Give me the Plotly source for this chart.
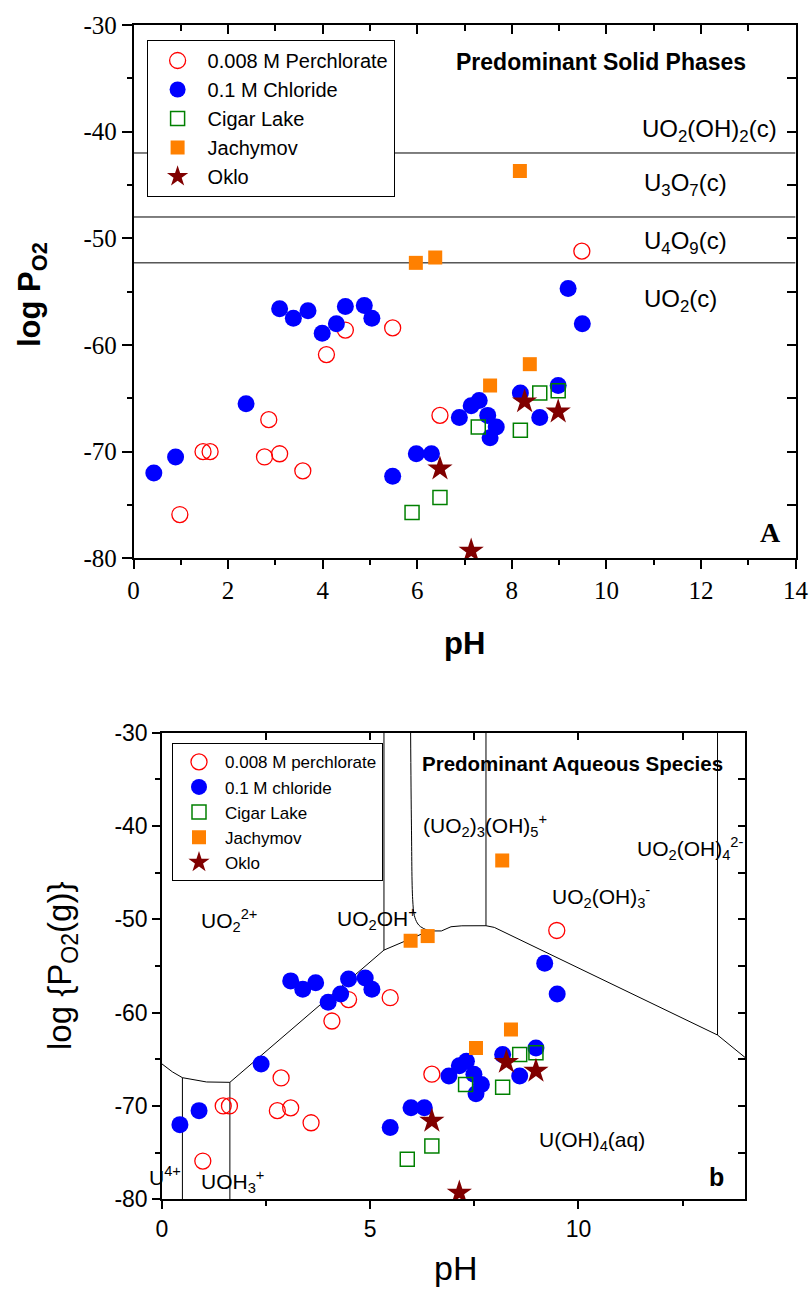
import plotly.graph_objects as go

W, H = 811, 1289

# ---------------- data ----------------
perc_pH = [4.48, 5.48, 4.08, 2.86, 1.47, 1.62, 2.77, 3.09, 3.58, 0.98, 6.48, 9.48]
perc_logP = [-58.6, -58.4, -60.9, -67.0, -70.0, -70.0, -70.5, -70.2, -71.8, -75.9, -66.6, -51.2]

chl_pH = [3.09, 3.38, 3.69, 3.99, 4.29, 4.48, 4.88, 5.04, 2.38, 0.89, 0.43, 5.98, 6.30,
          5.48, 6.89, 7.14, 7.31, 7.49, 7.67, 7.54, 8.18, 8.59, 8.98, 9.19, 9.49]
chl_logP = [-56.6, -57.5, -56.8, -58.9, -58.0, -56.4, -56.3, -57.5, -65.5, -70.5, -72.0, -70.2, -70.2,
            -72.3, -66.8, -65.7, -65.2, -66.6, -67.7, -68.7, -64.5, -66.8, -63.8, -54.7, -58.0]

cigar_pH = [7.29, 8.18, 8.59, 8.98, 6.48, 5.89]
cigar_logP = [-67.7, -68.0, -64.5, -64.3, -74.3, -75.7]

jach_pH = [7.54, 8.38, 8.17, 5.97, 6.38]
jach_logP = [-63.8, -61.8, -43.7, -52.3, -51.8]

oklo_pH = [6.48, 8.27, 8.98, 7.14]
oklo_logP = [-71.6, -65.3, -66.25, -79.3]

# solid-phase boundaries (panel A)
solid_bounds = [-42.0, -48.0, -52.3]

# aqueous-species boundaries (panel b)
main_b_pH = [0.0, 0.25, 0.49, 1.07, 1.63, 5.33, 6.41, 6.71, 6.94, 7.20, 7.78, 7.98, 13.34, 14.0]
main_b_logP = [-65.5, -66.35, -66.97, -67.43, -67.47, -53.3, -51.25, -51.25, -50.8, -50.7, -50.69, -50.87, -62.4, -64.8]
curve_b_pH = [5.97, 5.99, 6.02, 6.06, 6.13, 6.21, 6.41]
curve_b_logP = [-30.0, -40.0, -47.9, -49.6, -50.4, -50.8, -51.25]
vert_pH = [0.49, 1.63, 5.33, 7.78, 13.34]
vert_from = [-66.97, -67.47, -53.3, -50.69, -62.4]
vert_to = [-80.0, -80.0, -30.0, -30.0, -30.0]

# tick labels
xA_ticks = [0, 2, 4, 6, 8, 10, 12, 14]
xA_text = ["0", "2", "4", "6", "8", "10", "12", "14"]
xB_ticks = [0, 5, 10]
xB_text = ["0", "5", "10"]
y_ticks = [-80, -70, -60, -50, -40, -30]
y_text = ["-80", "-70", "-60", "-50", "-40", "-30"]

series = [
    ("0.008 M Perchlorate", "0.008 M perchlorate", perc_pH, perc_logP,
     dict(symbol="circle-open", size=16, color="#FF0000", line=dict(color="#FF0000", width=1.3))),
    ("0.1 M Chloride", "0.1 M chloride", chl_pH, chl_logP,
     dict(symbol="circle", size=17, color="#0000FF")),
    ("Cigar Lake", "Cigar Lake", cigar_pH, cigar_logP,
     dict(symbol="square-open", size=14, color="#008000", line=dict(color="#008000", width=1.5))),
    ("Jachymov", "Jachymov", jach_pH, jach_logP,
     dict(symbol="square", size=14, color="#FF8000")),
    ("Oklo", "Oklo", oklo_pH, oklo_logP,
     dict(symbol="star", size=19, color="#800000")),
]


def px(x):
    return x / W


def py(y):
    return 1 - y / H


fig = go.Figure()

# ---- panel A boundary lines ----
for b in solid_bounds:
    fig.add_trace(go.Scatter(x=[0, 14], y=[b, b], mode="lines", line=dict(color="black", width=1),
                             showlegend=False, hoverinfo="skip", xaxis="x", yaxis="y"))

# ---- panel b boundary lines ----
fig.add_trace(go.Scatter(x=main_b_pH, y=main_b_logP, mode="lines", line=dict(color="black", width=1),
                         showlegend=False, hoverinfo="skip", xaxis="x2", yaxis="y2"))
fig.add_trace(go.Scatter(x=curve_b_pH, y=curve_b_logP, mode="lines", line=dict(color="black", width=1, shape="spline"),
                         showlegend=False, hoverinfo="skip", xaxis="x2", yaxis="y2"))
for vx, v0, v1 in zip(vert_pH, vert_from, vert_to):
    fig.add_trace(go.Scatter(x=[vx, vx], y=[v0, v1], mode="lines", line=dict(color="black", width=1),
                             showlegend=False, hoverinfo="skip", xaxis="x2", yaxis="y2"))

# ---- markers ----
for nameA, nameB, xs, ys, mk in series:
    fig.add_trace(go.Scatter(x=xs, y=ys, mode="markers", name=nameA, marker=mk,
                             xaxis="x", yaxis="y", legend="legend"))
for nameA, nameB, xs, ys, mk in series:
    fig.add_trace(go.Scatter(x=xs, y=ys, mode="markers", name=nameB, marker=mk,
                             xaxis="x2", yaxis="y2", legend="legend2"))

# overlay axes (inside ticks on top / right) need a subplot entry
fig.add_trace(go.Scatter(x=[None], y=[None], xaxis="x3", yaxis="y3", showlegend=False, hoverinfo="skip"))
fig.add_trace(go.Scatter(x=[None], y=[None], xaxis="x4", yaxis="y4", showlegend=False, hoverinfo="skip"))

serif = "Liberation Serif"
sans = "Liberation Sans"

domA_x = [px(133.5), px(795.6)]
domA_y = [py(558.3), py(25)]
domB_x = [px(162), px(745)]
domB_y = [py(1199.3), py(732.6)]

common = dict(showgrid=False, zeroline=False, showline=True, linecolor="black", linewidth=1.5,
              tickcolor="black", tickwidth=1.5, automargin=False)
ov = dict(showticklabels=False, showgrid=False, zeroline=False, showline=False,
          tickcolor="black", tickwidth=1.5, automargin=False)

fig.update_layout(
    template="none",
    width=W, height=H, margin=dict(l=0, r=0, t=0, b=0, pad=0, autoexpand=False),
    paper_bgcolor="white", plot_bgcolor="white",
    xaxis=dict(domain=domA_x, range=[0, 14], tickmode="array", tickvals=xA_ticks, ticktext=xA_text,
               ticks="outside", ticklen=9, mirror=True,
               anchor="y", tickfont=dict(family=serif, size=25, color="black"),
               minor=dict(dtick=1, tick0=0, ticks="outside", ticklen=5, tickcolor="black", tickwidth=1.5), **common),
    yaxis=dict(domain=domA_y, range=[-80, -30], tickmode="array", tickvals=y_ticks, ticktext=y_text,
               ticks="outside", ticklen=10, mirror=True,
               anchor="x", tickfont=dict(family=serif, size=25, color="black"),
               minor=dict(dtick=5, tick0=-80, ticks="outside", ticklen=5, tickcolor="black", tickwidth=1.5), **common),
    xaxis3=dict(overlaying="x", side="top", anchor="y", range=[0, 14], dtick=2, tick0=0, ticks="inside",
                ticklen=9, minor=dict(dtick=1, ticks="inside", ticklen=6, tickcolor="black", tickwidth=1.5), **ov),
    yaxis3=dict(overlaying="y", side="right", anchor="x", range=[-80, -30], dtick=10, tick0=-80, ticks="inside",
                ticklen=9, minor=dict(dtick=5, ticks="inside", ticklen=9, tickcolor="black", tickwidth=1.5), **ov),
    xaxis2=dict(domain=domB_x, range=[0, 14], tickmode="array", tickvals=xB_ticks, ticktext=xB_text,
                ticks="outside", ticklen=8, mirror=True,
                anchor="y2", tickfont=dict(family=sans, size=23, color="black"),
                minor=dict(dtick=2.5, tick0=0, ticks="outside", ticklen=5, tickcolor="black", tickwidth=1.5), **common),
    yaxis2=dict(domain=domB_y, range=[-80, -30], tickmode="array", tickvals=y_ticks, ticktext=y_text,
                ticks="outside", ticklen=8, mirror=True,
                anchor="x2", tickfont=dict(family=sans, size=23, color="black"),
                minor=dict(dtick=5, tick0=-80, ticks="outside", ticklen=5, tickcolor="black", tickwidth=1.5), **common),
    xaxis4=dict(overlaying="x2", side="top", anchor="y2", range=[0, 14], dtick=5, tick0=0, ticks="inside",
                ticklen=7, minor=dict(dtick=2.5, ticks="inside", ticklen=7, tickcolor="black", tickwidth=1.5), **ov),
    yaxis4=dict(overlaying="y2", side="right", anchor="x2", range=[-80, -30], dtick=10, tick0=-80, ticks="inside",
                ticklen=7, minor=dict(dtick=5, ticks="inside", ticklen=7, tickcolor="black", tickwidth=1.5), **ov),
    legend=dict(x=px(146.6), y=py(40), xanchor="left", yanchor="top", bgcolor="white",
                bordercolor="black", borderwidth=1, font=dict(family=sans, size=20, color="black"),
                tracegroupgap=0, itemwidth=50),
    legend2=dict(x=px(172), y=py(743.3), xanchor="left", yanchor="top", bgcolor="white",
                 bordercolor="black", borderwidth=1, font=dict(family=sans, size=17, color="black"),
                 tracegroupgap=0, itemwidth=42),
    showlegend=True,
)


def ann(text, x, y, size, family=sans, xanchor="left", yanchor="middle", angle=0):
    fig.add_annotation(text=text, x=px(x), y=py(y), xref="paper", yref="paper", showarrow=False,
                       xanchor=xanchor, yanchor=yanchor, textangle=angle,
                       font=dict(family=family, size=size, color="black"))


# panel A texts
ann("<b>Predominant Solid Phases</b>", 454, 62, 23)
ann("UO<sub>2</sub>(OH)<sub>2</sub>(c)", 640, 130, 24)
ann("U<sub>3</sub>O<sub>7</sub>(c)", 642, 185, 24)
ann("U<sub>4</sub>O<sub>9</sub>(c)", 642, 242, 24)
ann("UO<sub>2</sub>(c)", 642, 300, 24)
ann("<b>A</b>", 770, 532, 28, family=serif, xanchor="center")
ann("<b>pH</b>", 465, 643, 31, xanchor="center")
ann("<b>log P<sub>O2</sub></b>", 32, 295, 31, xanchor="center", angle=-90)

# panel b texts
ann("<b>Predominant Aqueous Species</b>", 420, 763, 20.5)
ann("(UO<sub>2</sub>)<sub>3</sub>(OH)<sub>5</sub><sup>+</sup>", 421, 825, 21)
ann("UO<sub>2</sub>(OH)<sub>4</sub><sup>2-</sup>", 635, 848, 21)
ann("UO<sub>2</sub>(OH)<sub>3</sub><sup>-</sup>", 550, 896, 21)
ann("UO<sub>2</sub><sup>2+</sup>", 199, 920, 21)
ann("UO<sub>2</sub>OH<sup>+</sup>", 335, 918, 21)
ann("U(OH)<sub>4</sub>(aq)", 537, 1141, 21)
ann("<b>b</b>", 716, 1177, 25, xanchor="center")
ann("U<sup>4+</sup>", 147, 1176, 21)
ann("UOH<sub>3</sub><sup>+</sup>", 199, 1181, 21)
ann("pH", 455, 1268, 34, xanchor="center")
ann("log {P<sub>O2</sub>(g)}", 62, 966, 33, xanchor="center", angle=-90)

fig.write_html("out.html")
